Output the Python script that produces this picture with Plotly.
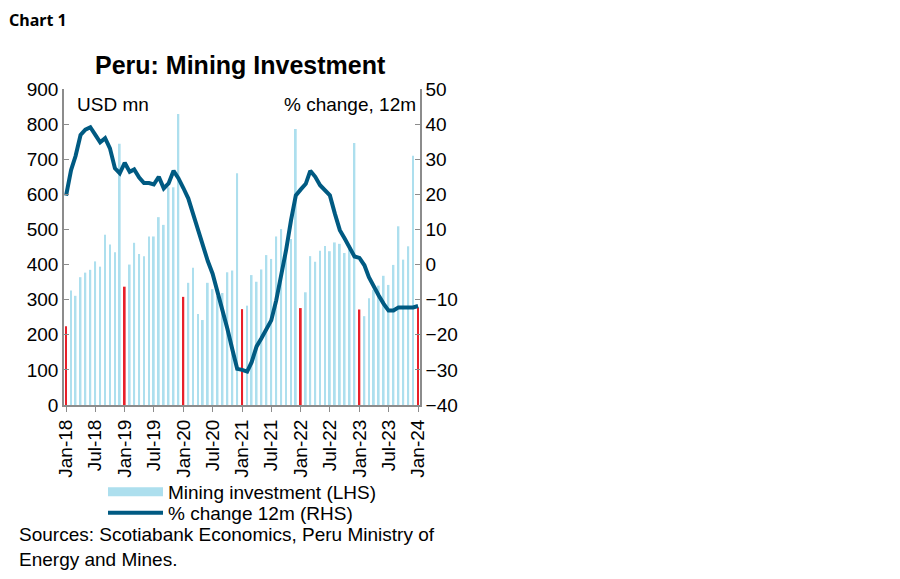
import pandas as pd
import plotly.graph_objects as go

months = pd.date_range("2018-01-01", periods=73, freq="MS")

investment = [
    224, 326, 311, 364, 377, 385, 409, 394, 485, 457, 435, 744,
    337, 400, 462, 430, 424, 480, 480, 535, 513, 620, 620, 829,
    308, 348, 391, 259, 242, 348, 330, 310, 319, 378, 383, 660,
    273, 283, 370, 351, 386, 427, 416, 480, 501, 455, 473, 786,
    276, 321, 424, 408, 439, 453, 438, 463, 459, 433, 449, 746,
    272, 253, 304, 328, 340, 368, 342, 399, 509, 414, 452, 710,
    278,
]

pct_change = [
    19.6, 26.9, 30.9, 36.9, 38.4, 39.1, 37.0, 34.8, 36.0, 33.1, 27.4, 26.0,
    29.0, 26.4, 27.1, 24.8, 23.2, 23.2, 22.8, 25.0, 21.7, 23.1, 26.7, 24.6,
    21.8, 18.8, 14.5, 9.8, 5.3, 1.0, -2.6, -8.0, -12.3, -18.3, -24.2, -29.7,
    -30.0, -30.5, -27.8, -23.3, -21.0, -18.3, -15.9, -10.2, -3.6, 4.0, 12.6, 19.7,
    21.4, 23.0, 26.7, 25.0, 22.6, 21.0, 19.7, 14.5, 9.8, 7.4, 5.0, 2.3,
    1.9, -0.2, -3.6, -6.4, -8.8, -11.2, -13.1, -13.1, -12.2, -12.2, -12.2, -12.2,
    -11.8,
]

BAR_BLUE = "#ADDFEE"
BAR_RED = "#E8202A"
LINE_BLUE = "#005A82"
AXIS_GRAY = "#8C8C8C"
FONT = "Liberation Sans, Arial, sans-serif"
FS = 19

# page body has an 8px margin: figure is 892x571 placed at (8,8)
PL, PR, PT, PB = 64, 420, 89, 405  # plot area in window pixels
PW, PH = PR - PL, PB - PT


def px(X):
    return (X - PL) / PW


def py(Y):
    return (PB - Y) / PH


bar_colors = [BAR_RED if d.month == 1 else BAR_BLUE for d in months]

fig = go.Figure()

fig.add_trace(go.Bar(
    x=months, y=investment, marker=dict(color=bar_colors, line=dict(width=0)),
    showlegend=False, yaxis="y", name="Mining investment (LHS)",
))
# legend swatch for the bars
fig.add_trace(go.Scatter(
    x=[None], y=[None], mode="lines", line=dict(color=BAR_BLUE, width=9),
    name="Mining investment (LHS)", showlegend=True, legend="legend",
))
fig.add_trace(go.Scatter(
    x=months, y=pct_change, mode="lines", line=dict(color=LINE_BLUE, width=4),
    name="% change 12m (RHS)", yaxis="y2", legend="legend2",
))

legend_common = dict(
    xanchor="left", yanchor="middle",
    font=dict(family=FONT, size=FS, color="black"),
    itemwidth=55, bgcolor="rgba(0,0,0,0)",
)

fig.update_layout(
    width=892, height=571,
    margin=dict(l=PL - 8, r=892 - (PR - 8), t=PT - 8, b=571 - (PB - 8), autoexpand=False),
    paper_bgcolor="white", plot_bgcolor="white",
    font=dict(family=FONT, size=FS, color="black"),
    bargap=0.6,
    showlegend=True,
    legend=dict(x=px(103), y=py(492), **legend_common),
    legend2=dict(x=px(103), y=py(513), **legend_common),
    xaxis=dict(
        range=["2017-12-19", "2024-01-13"],
        tick0="2018-01-01", dtick="M6", tickformat="%b-%y",
        tickangle=-90, ticks="outside", ticklen=5, tickcolor=AXIS_GRAY,
        showline=True, linecolor=AXIS_GRAY, linewidth=2,
        showgrid=False, zeroline=False,
        tickfont=dict(family=FONT, size=FS, color="black"),
    ),
    yaxis=dict(
        range=[0, 900], dtick=100, ticks="inside", ticklen=5, tickcolor=AXIS_GRAY,
        showline=True, linecolor=AXIS_GRAY, linewidth=1.5,
        showgrid=False, zeroline=False,
        tickfont=dict(family=FONT, size=FS, color="black"),
    ),
    yaxis2=dict(
        range=[-40, 50], dtick=10, overlaying="y", side="right",
        ticks="inside", ticklen=5, tickcolor=AXIS_GRAY,
        showline=True, linecolor=AXIS_GRAY, linewidth=1.5,
        showgrid=False, zeroline=False,
        tickfont=dict(family=FONT, size=FS, color="black"),
    ),
    annotations=[
        dict(text="<b>Chart 1</b>", xref="paper", yref="paper",
             x=px(8), y=py(8), xanchor="left", yanchor="top", borderpad=0,
             showarrow=False, font=dict(family="Noto Sans, sans-serif", size=16, color="black")),
        dict(text="<b>Peru: Mining Investment</b>", xref="paper", yref="paper",
             x=px(240), y=py(65), xanchor="center", yanchor="middle",
             showarrow=False, font=dict(family=FONT, size=25, color="black")),
        dict(text="USD mn", xref="paper", yref="paper",
             x=px(75), y=py(104), xanchor="left", yanchor="middle",
             showarrow=False, font=dict(family=FONT, size=FS, color="black")),
        dict(text="% change, 12m", xref="paper", yref="paper",
             x=px(418), y=py(104), xanchor="right", yanchor="middle",
             showarrow=False, font=dict(family=FONT, size=FS, color="black")),
        dict(text="Sources: Scotiabank Economics, Peru Ministry of<br>Energy and Mines.",
             xref="paper", yref="paper", align="left",
             x=px(17), y=py(522), xanchor="left", yanchor="top",
             showarrow=False, font=dict(family=FONT, size=FS, color="black")),
    ],
)

fig.write_html("out.html")
